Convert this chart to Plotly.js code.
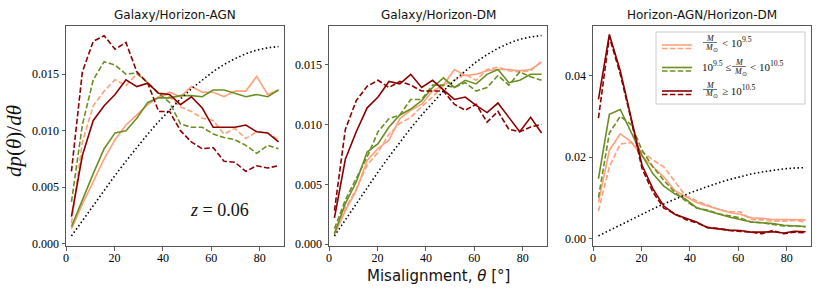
<!DOCTYPE html>
<html>
<head>
<meta charset="utf-8">
<script src="https://cdn.plot.ly/plotly-3.0.1.min.js"></script>
<style>html,body{margin:0;padding:0;background:#fff;}#chart{width:822px;height:294px;}</style>
</head>
<body>
<div id="chart"></div>
<script>
// ---- data ----
const theta = [2.25,6.75,11.25,15.75,20.25,24.75,29.25,33.75,38.25,42.75,47.25,51.75,56.25,60.75,65.25,69.75,74.25,78.75,83.25,87.75];
const isotropic = [0.00069,0.00205,0.0034,0.00474,0.00604,0.0073,0.00853,0.0097,0.0108,0.01184,0.0128,0.0137,0.0145,0.01523,0.01585,0.01637,0.0168,0.01712,0.01733,0.01744];

const panelTitles = ["Galaxy/Horizon-AGN","Galaxy/Horizon-DM","Horizon-AGN/Horizon-DM"];
const xTicks = [0,20,40,60,80];
const yTicks12 = [0,0.005,0.010,0.015];
const yTicks3 = [0,0.02,0.04];

// Panel 1: Galaxy/Horizon-AGN
const lowSolid1  = [0.0013,0.0035,0.0055,0.0075,0.0092,0.0105,0.0114,0.0123,0.0130,0.0134,0.0130,0.0139,0.0134,0.0134,0.0130,0.0135,0.0135,0.0148,0.0132,0.0136];
const lowDash1   = [0.0018,0.0090,0.0122,0.0135,0.0145,0.0140,0.0150,0.0143,0.0133,0.0130,0.0121,0.0117,0.0111,0.0109,0.0097,0.0102,0.0093,0.0099,0.0098,0.0092];
const midSolid1  = [0.0015,0.0039,0.0062,0.0084,0.0098,0.0100,0.0111,0.0125,0.0129,0.0129,0.0131,0.0131,0.0130,0.0136,0.0136,0.0133,0.0130,0.0132,0.0130,0.0136];
const midDash1   = [0.0037,0.0105,0.0145,0.0161,0.0158,0.0150,0.0151,0.0142,0.0133,0.0125,0.0106,0.0103,0.0103,0.0097,0.0094,0.0092,0.0087,0.0080,0.0087,0.0084];
const highSolid1 = [0.0024,0.0078,0.0109,0.0122,0.0132,0.0145,0.0139,0.0142,0.0133,0.0132,0.0123,0.0130,0.0120,0.0103,0.0103,0.0103,0.0105,0.0099,0.0098,0.0090];
const highDash1  = [0.0064,0.0152,0.0179,0.0184,0.0172,0.0178,0.0152,0.0142,0.0117,0.0117,0.0100,0.0090,0.0084,0.0085,0.0073,0.0072,0.0064,0.0069,0.0067,0.0069];

// Panel 2: Galaxy/Horizon-DM
const lowSolid2  = [0.0008,0.0028,0.0045,0.0070,0.0080,0.0087,0.0105,0.0112,0.0117,0.0128,0.0133,0.0146,0.0141,0.0142,0.0145,0.0146,0.0146,0.0145,0.0146,0.0152];
const lowDash2   = [0.0009,0.0030,0.0046,0.0066,0.0077,0.0092,0.0101,0.0106,0.0115,0.0123,0.0133,0.0137,0.0142,0.0137,0.0146,0.0148,0.0145,0.0144,0.0145,0.0153];
const midSolid2  = [0.0009,0.0034,0.0052,0.0077,0.0084,0.0098,0.0108,0.0113,0.0120,0.0131,0.0139,0.0131,0.0137,0.0134,0.0142,0.0146,0.0135,0.0137,0.0142,0.0142];
const midDash2   = [0.0013,0.0037,0.0055,0.0073,0.0094,0.0105,0.0108,0.0121,0.0121,0.0133,0.0133,0.0131,0.0135,0.0128,0.0131,0.0141,0.0133,0.0144,0.0140,0.0137];
const highSolid2 = [0.0022,0.0071,0.0094,0.0114,0.0123,0.0136,0.0134,0.0142,0.0131,0.0137,0.0129,0.0121,0.0123,0.0116,0.0110,0.0118,0.0106,0.0094,0.0106,0.0093];
const highDash2  = [0.0028,0.0096,0.0120,0.0132,0.0137,0.0131,0.0136,0.0133,0.0128,0.0128,0.0128,0.0117,0.0112,0.0117,0.0102,0.0111,0.0096,0.0094,0.0098,0.0100];

// Panel 3: Horizon-AGN/Horizon-DM
const lowSolid3  = [0.0089,0.0217,0.0257,0.0238,0.0202,0.0176,0.0151,0.0118,0.0103,0.0089,0.0080,0.0072,0.0064,0.0060,0.0051,0.0050,0.0047,0.0047,0.0046,0.0046];
const lowDash3   = [0.0068,0.0176,0.0232,0.0236,0.0213,0.0193,0.0176,0.0139,0.0105,0.0093,0.0083,0.0072,0.0066,0.0066,0.0047,0.0046,0.0043,0.0043,0.0045,0.0041];
const midSolid3  = [0.0147,0.0305,0.0317,0.0263,0.0205,0.0159,0.0129,0.0110,0.0097,0.0076,0.0068,0.0060,0.0053,0.0047,0.0041,0.0039,0.0037,0.0033,0.0032,0.0030];
const midDash3   = [0.0101,0.0259,0.0300,0.0280,0.0217,0.0176,0.0143,0.0114,0.0093,0.0075,0.0070,0.0061,0.0056,0.0051,0.0041,0.0039,0.0035,0.0031,0.0031,0.0029];
const highSolid3 = [0.0342,0.0501,0.0412,0.0296,0.0180,0.0122,0.0080,0.0060,0.0050,0.0041,0.0027,0.0024,0.0021,0.0020,0.0016,0.0016,0.0017,0.0014,0.0018,0.0017];
const highDash3  = [0.0296,0.0495,0.0404,0.0292,0.0172,0.0114,0.0075,0.0060,0.0047,0.0039,0.0028,0.0025,0.0020,0.0018,0.0016,0.0012,0.0020,0.0012,0.0016,0.0014];

// ---- styling ----
const W = 822, H = 294;
const COL = {low:'#FFA07A', mid:'#6B8E23', high:'#8B0000'};
const DASH = '5.5px,2.4px';
const DOT = '1.5px,2.5px';
const SERIF = 'Liberation Serif';
const px = x => x / W;
const py = y => 1 - y / H;

const panels = [
  {ax:'', d:[66,284], ys:[lowSolid1,lowDash1,midSolid1,midDash1,highSolid1,highDash1], yr:[-0.0002,0.0193], yt:yTicks12, fmt:'.3f'},
  {ax:'2', d:[329,547], ys:[lowSolid2,lowDash2,midSolid2,midDash2,highSolid2,highDash2], yr:[-0.00015,0.01828], yt:yTicks12, fmt:'.3f'},
  {ax:'3', d:[593,811], ys:[lowSolid3,lowDash3,midSolid3,midDash3,highSolid3,highDash3], yr:[-0.0018,0.0523], yt:yTicks3, fmt:'.2f'}
];
const TOP = 25.5, BOT = 246;

const traces = [];
const layout = {
  template: {},
  width: W, height: H,
  margin: {l:0, r:0, t:0, b:0},
  paper_bgcolor: '#fff', plot_bgcolor: '#fff',
  font: {family: SERIF, size: 12, color: '#000'},
  showlegend: false,
  annotations: [], shapes: []
};
const keys = ['low','low','mid','mid','high','high'];

panels.forEach((p, i) => {
  const xa = 'x' + p.ax, ya = 'y' + p.ax;
  p.ys.forEach((arr, k) => {
    traces.push({
      x: theta, y: arr, xaxis: xa, yaxis: ya, type: 'scatter', mode: 'lines',
      line: {color: COL[keys[k]], width: 1.6, dash: (k % 2 === 1) ? DASH : 'solid'},
      hoverinfo: 'skip'
    });
  });
  traces.push({
    x: theta, y: isotropic, xaxis: xa, yaxis: ya, type: 'scatter', mode: 'lines',
    line: {color: '#000', width: 1.6, dash: DOT}, hoverinfo: 'skip'
  });
  layout['xaxis' + p.ax] = {
    domain: [px(p.d[0]), px(p.d[1])], range: [0, 90], anchor: ya,
    tickvals: xTicks, ticktext: xTicks.map(String), ticks: 'outside', ticklen: 3.5, tickwidth: 0.8, tickcolor: '#333',
    ticklabelstandoff: -3,
    showline: true, mirror: true, linecolor: '#555', linewidth: 1,
    showgrid: false, zeroline: false,
    tickfont: {family: SERIF, size: 12, color: '#000'}
  };
  layout['yaxis' + p.ax] = {
    domain: [py(BOT), py(TOP)], range: p.yr, anchor: xa,
    tickvals: p.yt, tickformat: p.fmt, ticks: 'outside', ticklen: 3.5, tickwidth: 0.8, tickcolor: '#333',
    showline: true, mirror: true, linecolor: '#555', linewidth: 1,
    showgrid: false, zeroline: false,
    tickfont: {family: SERIF, size: 12, color: '#000'}
  };
  layout.annotations.push({
    xref:'paper', yref:'paper', x: px((p.d[0]+p.d[1])/2), y: py(15), xanchor:'center', yanchor:'middle',
    text: panelTitles[i], showarrow:false, font:{family:'DejaVu Sans', size:12, color:'#111'}
  });
});

// axis labels
layout.annotations.push({
  xref:'paper', yref:'paper', x: px(438), y: py(276), xanchor:'center', yanchor:'middle', showarrow:false,
  text: 'Misalignment, <i>θ</i> [°]',
  font:{family:'DejaVu Sans', size:15, color:'#111'}
});
layout.annotations.push({
  xref:'paper', yref:'paper', x: px(14), y: py(141), xanchor:'center', yanchor:'middle', showarrow:false, textangle:-90,
  text: '<i>dp</i>(<i>θ</i>)/<i>dθ</i>',
  font:{family: SERIF, size:21, color:'#111'}
});
layout.annotations.push({
  xref:'paper', yref:'paper', x: px(219), y: py(210), xanchor:'center', yanchor:'middle', showarrow:false,
  text: '<i>z</i> = 0.06',
  font:{family: SERIF, size:18, color:'#111'}
});

// legend (panel 3)
layout.shapes.push({type:'rect', xref:'paper', yref:'paper', x0:px(656), x1:px(805), y0:py(104), y1:py(32),
  line:{color:'#cccccc', width:1}, fillcolor:'rgba(255,255,255,0.85)', layer:'above'});
const legRows = [
  {key:'low', y1:45, y2:48.5},
  {key:'mid', y1:67.5, y2:71},
  {key:'high', y1:91, y2:94.5}
];
legRows.forEach(r => {
  layout.shapes.push({type:'line', xref:'paper', yref:'paper', x0:px(662), x1:px(692), y0:py(r.y1), y1:py(r.y1),
    line:{color:COL[r.key], width:1.6}, layer:'above'});
  layout.shapes.push({type:'line', xref:'paper', yref:'paper', x0:px(662), x1:px(692), y0:py(r.y2), y1:py(r.y2),
    line:{color:COL[r.key], width:1.6, dash:DASH}, layer:'above'});
});
const legFont = {family: SERIF, size:11, color:'#111'};
const fracFont = {family: SERIF, size:8, color:'#111'};
function frac(cx, cy) {
  layout.annotations.push({xref:'paper', yref:'paper', x:px(cx), y:py(cy-4.5), xanchor:'center', yanchor:'middle',
    showarrow:false, text:'<i>M</i>', font:fracFont});
  layout.annotations.push({xref:'paper', yref:'paper', x:px(cx+1), y:py(cy+5), xanchor:'center', yanchor:'middle',
    showarrow:false, text:'<i>M</i><sub>⊙</sub>', font:fracFont});
  layout.shapes.push({type:'line', xref:'paper', yref:'paper', x0:px(cx-7), x1:px(cx+7), y0:py(cy), y1:py(cy),
    line:{color:'#111', width:0.6}, layer:'above'});
}
function ltext(x, y, t) {
  layout.annotations.push({xref:'paper', yref:'paper', x:px(x), y:py(y), xanchor:'left', yanchor:'middle',
    showarrow:false, text:t, font:legFont});
}
frac(710, 42.5); ltext(720, 42, '&lt; 10<sup>9.5</sup>');
ltext(700, 66.5, '10<sup>9.5</sup> ≤'); frac(739, 66.5); ltext(748, 66.5, '&lt; 10<sup>10.5</sup>');
frac(710, 89.5); ltext(720, 89.5, '≥ 10<sup>10.5</sup>');

Plotly.newPlot('chart', traces, layout, {staticPlot:true, displayModeBar:false});
</script>
</body>
</html>
